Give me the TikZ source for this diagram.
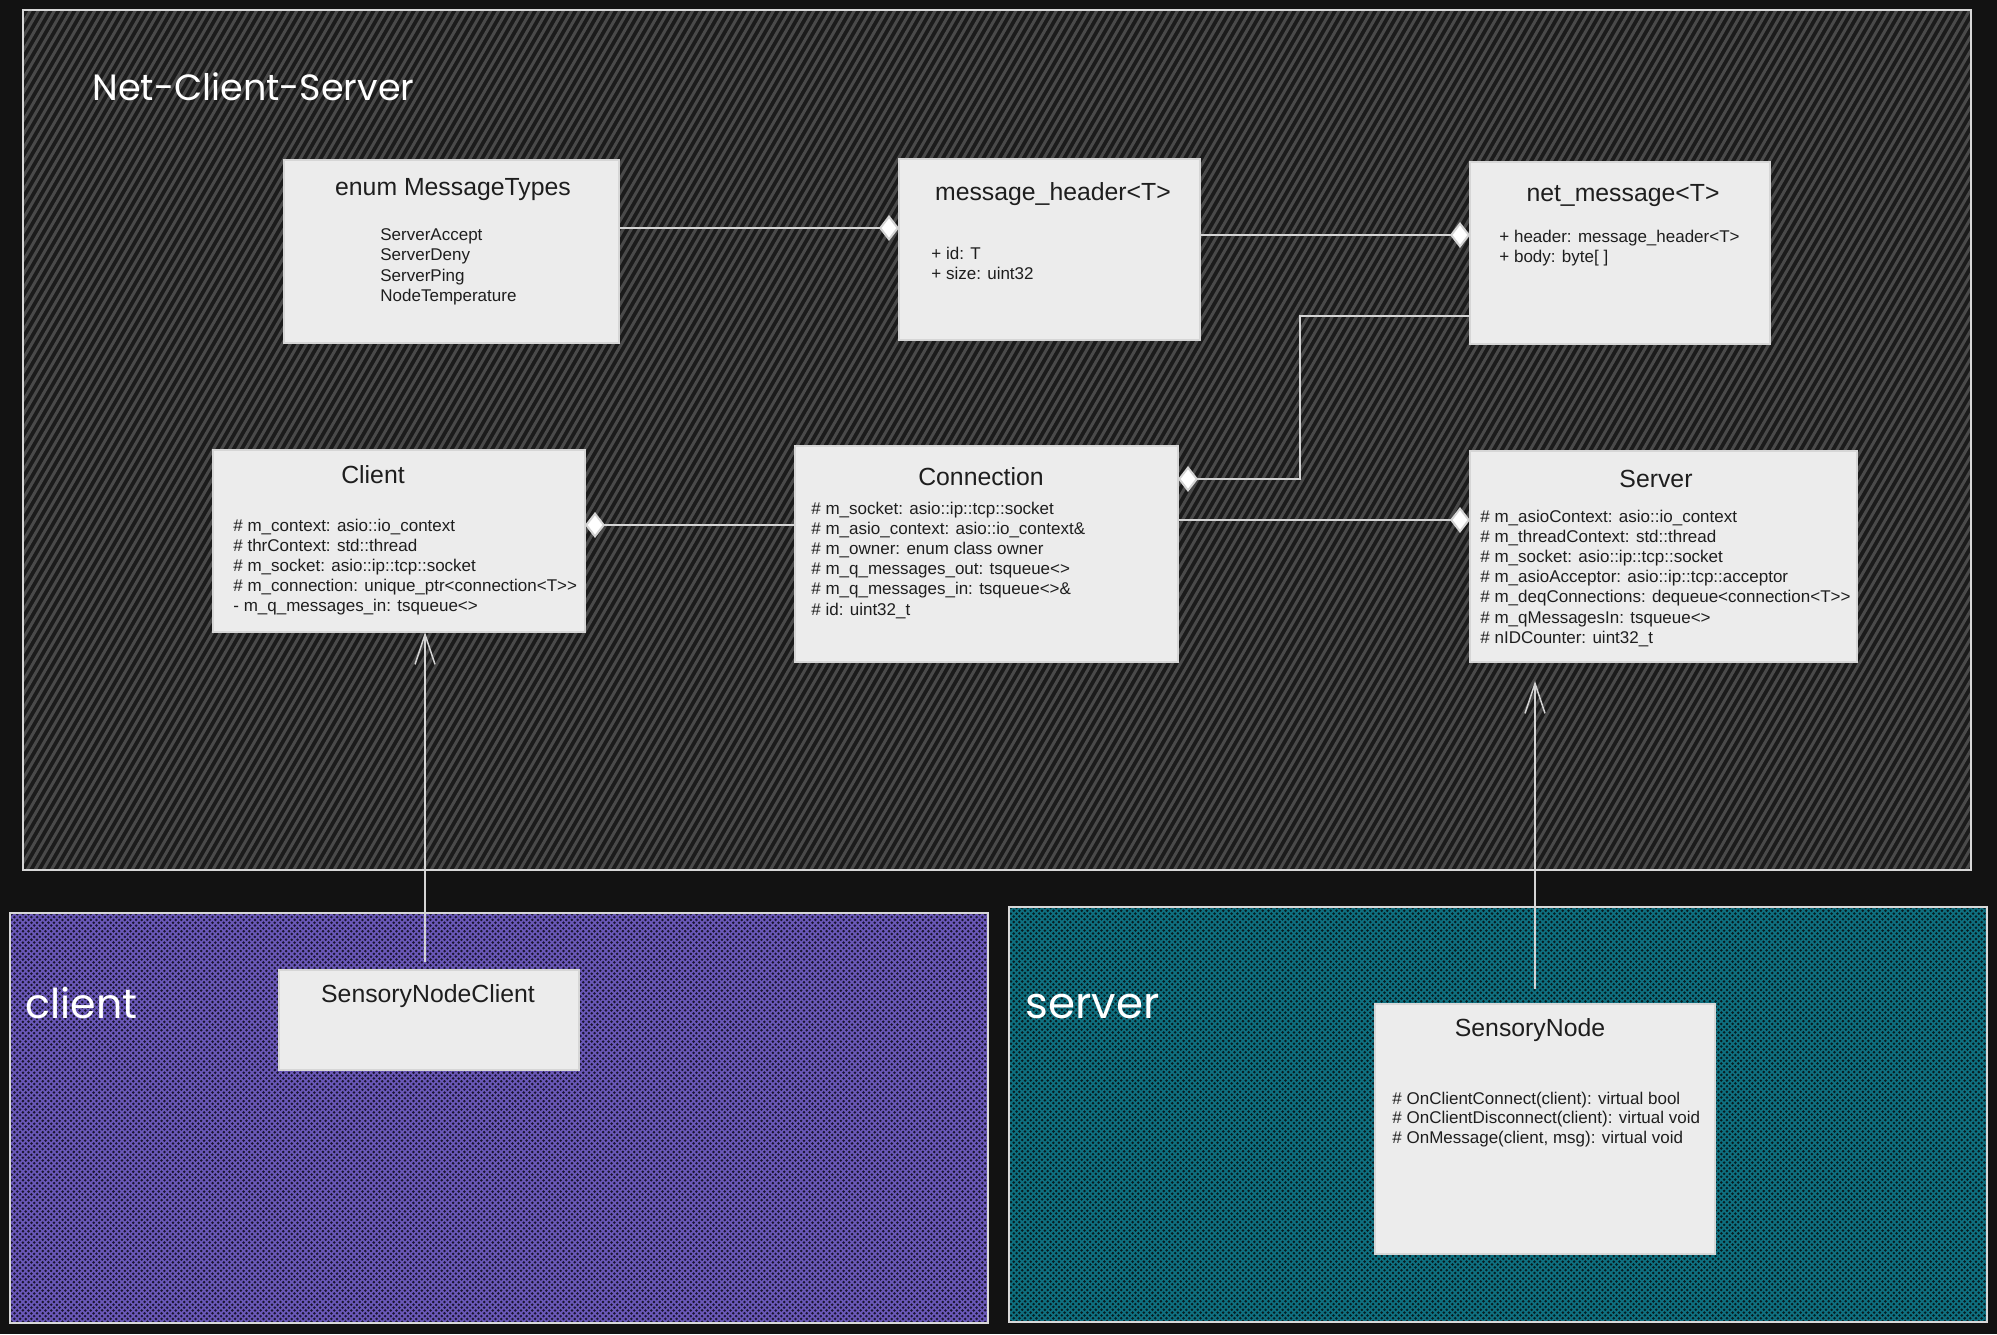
\documentclass[tikz,border=0pt]{standalone}
\usepackage{fontspec}
\setmainfont{Liberation Sans}
\newfontfamily\handfont{Poppins}
\usetikzlibrary{arrows.meta}
\definecolor{pagebg}{HTML}{121212}
\definecolor{topbase}{HTML}{1b1b1b}
\definecolor{tophatch}{HTML}{4a4a4a}
\definecolor{purpbase}{HTML}{1a1530}
\definecolor{purphatch}{HTML}{6a58b8}
\definecolor{tealbase}{HTML}{071c20}
\definecolor{tealhatch}{HTML}{0f7080}
\definecolor{boxfill}{HTML}{ECECEC}
\definecolor{boxline}{HTML}{D6D6D6}
\definecolor{ink}{HTML}{1E1E1E}
\definecolor{connline}{HTML}{D4D4D4}
\definecolor{frameline}{HTML}{D8D8D8}
\begin{document}
\begin{tikzpicture}[x=0.5pt,y=-0.5pt,
 umlbox/.style={draw=boxline, line width=0.8pt, fill=boxfill, inner sep=0pt, outer sep=0pt},
 ttl/.style={font=\fontsize{12.4pt}{14pt}\selectfont, text=ink, inner sep=0pt, anchor=base},
 itemtxt/.style={font=\fontsize{8.5pt}{10pt}\selectfont, text=ink, inner sep=0pt, anchor=base west},
 hand/.style={text=white, inner sep=0pt, anchor=base west, font=\handfont},
 connector/.style={draw=connline, line width=1pt},
 dia/.style={-{Diamond[length=10pt,width=13pt,fill=white]}},
 inh/.style={-{Straight Barb[length=15pt,width=10pt]}, line width=0.75pt, draw=connline},
 frm/.style={draw=frameline, line width=0.8pt},
 hA/.style={draw=tophatch, line width=1.5pt},
 hP/.style={draw=purphatch, line width=0.85pt},
 hT/.style={draw=tealhatch, line width=0.85pt}
]
\useasboundingbox (0,0) rectangle (1997,1334);
\fill[pagebg] (0,0) rectangle (1997,1334);

% ---------- top frame ----------
\fill[topbase] (23,10) rectangle (1971,870);
\begin{scope}
 \clip (23,10) rectangle (1971,870);
 \foreach \k in {0,...,303} \draw[hA] ({-474+\k*8.08},870) -- ++(496.5,-860);
\end{scope}
\draw[frm] (23,10) rectangle (1971,870);

% ---------- client frame ----------
\fill[purpbase] (10,913) rectangle (988,1323);
\begin{scope}
 \clip (10,913) rectangle (988,1323);
 \foreach \k in {0,...,246} {
  \draw[hP] ({-400+\k*5.66},1323) -- ++(410,-410);
  \draw[hP] ({-400+\k*5.66},913) -- ++(410,410);
 }
\end{scope}
\draw[frm] (10,913) rectangle (988,1323);

% ---------- server frame ----------
\fill[tealbase] (1009,907) rectangle (1987,1322);
\begin{scope}
 \clip (1009,907) rectangle (1987,1322);
 \foreach \k in {0,...,248} {
  \draw[hT] ({1009-415+\k*5.66},1322) -- ++(415,-415);
  \draw[hT] ({1009-415+\k*5.66},907) -- ++(415,415);
 }
\end{scope}
\draw[frm] (1009,907) rectangle (1987,1322);

% ---------- frame labels ----------
\node[hand] (lblnet) at (92,100) {\resizebox{161pt}{!}{Net-Client-Server}};
\node[hand] (lblcli) at (25,1018) {\resizebox{56pt}{!}{client}};
\node[hand] (lblsrv) at (1025,1018) {\resizebox{67pt}{!}{server}};

% ---------- boxes ----------
\node[umlbox, minimum width=167.5pt, minimum height=91.5pt] (enum) at (451.5,251.5) {};
\node[umlbox, minimum width=150.5pt, minimum height=90.5pt] (mh) at (1049.5,249.5) {};
\node[umlbox, minimum width=150pt, minimum height=91pt] (nm) at (1620,253) {};
\node[umlbox, minimum width=186pt, minimum height=91pt] (client) at (399,541) {};
\node[umlbox, minimum width=191.5pt, minimum height=108pt] (conn) at (986.5,554) {};
\node[umlbox, minimum width=193.5pt, minimum height=105.5pt] (server) at (1663.5,556.5) {};
\node[umlbox, minimum width=150pt, minimum height=50pt] (snc) at (429,1020) {};
\node[umlbox, minimum width=170pt, minimum height=125pt] (sn) at (1545,1129) {};

% ---------- titles ----------
\node[ttl] (enumT) at (453,195) {enum MessageTypes};
\node[ttl] (mhT) at (1053,200) {message\_header<T>};
\node[ttl] (nmT) at (1623,201) {net\_message<T>};
\node[ttl] (clientT) at (373,483) {Client};
\node[ttl] (connT) at (981,485) {Connection};
\node[ttl] (serverT) at (1656,487) {Server};
\node[ttl] (sncT) at (428,1002) {SensoryNodeClient};
\node[ttl] (snT) at (1530,1036) {SensoryNode};

% ---------- items ----------
\foreach \txt [count=\i] in {ServerAccept, ServerDeny, ServerPing, NodeTemperature}
 \node[itemtxt] (enumI\i) at (380,{240.3+(\i-1)*20.4}) {\txt};
\foreach \txt [count=\i] in {{+ id: T}, {+ size: uint32}}
 \node[itemtxt] (mhI\i) at (931,{259+(\i-1)*20.4}) {\txt};
\foreach \txt [count=\i] in {{+ header: message\_header<T>}, {+ body: byte[ ]}}
 \node[itemtxt] (nmI\i) at (1499,{242+(\i-1)*20.4}) {\txt};
\foreach \txt [count=\i] in {{\# m\_context: asio::io\_context}, {\# thrContext: std::thread}, {\# m\_socket: asio::ip::tcp::socket}, {\# m\_connection: unique\_ptr<connection<T>{}>}, {- m\_q\_messages\_in: tsqueue<>}}
 \node[itemtxt] (clientI\i) at (233,{531+(\i-1)*20}) {\txt};
\foreach \txt [count=\i] in {{\# m\_socket: asio::ip::tcp::socket}, {\# m\_asio\_context: asio::io\_context\&}, {\# m\_owner: enum class owner}, {\# m\_q\_messages\_out: tsqueue<>}, {\# m\_q\_messages\_in: tsqueue<>\&}, {\# id: uint32\_t}}
 \node[itemtxt] (connI\i) at (811,{514+(\i-1)*20.2}) {\txt};
\foreach \txt [count=\i] in {{\# m\_asioContext: asio::io\_context}, {\# m\_threadContext: std::thread}, {\# m\_socket: asio::ip::tcp::socket}, {\# m\_asioAcceptor: asio::ip::tcp::acceptor}, {\# m\_deqConnections: dequeue<connection<T>{}>}, {\# m\_qMessagesIn: tsqueue<>}, {\# nIDCounter: uint32\_t}}
 \node[itemtxt] (serverI\i) at (1480,{522+(\i-1)*20.2}) {\txt};
\foreach \txt [count=\i] in {{\# OnClientConnect(client): virtual bool}, {\# OnClientDisconnect(client): virtual void}, {\# OnMessage(client, msg): virtual void}}
 \node[itemtxt] (snI\i) at (1392,{1104+(\i-1)*19.6}) {\txt};

% ---------- connectors ----------
\coordinate (c1) at ([yshift=11.75pt]enum.east);
\draw[connector, dia] (c1) -- (c1 -| mh.west);
\coordinate (c2) at ([yshift=7.25pt]mh.east);
\draw[connector, dia] (c2) -- (c2 -| nm.west);
\coordinate (c3) at ([yshift=-31.5pt]nm.west);
\coordinate (c3e) at ([yshift=37.5pt]conn.east);
\draw[connector, dia] (c3) -- ++(-170,0) |- (c3e);
\coordinate (c4) at ([yshift=14.5pt]conn.west);
\draw[connector, dia] (c4) -- (c4 -| client.east);
\coordinate (c5) at ([yshift=17pt]conn.east);
\draw[connector, dia] (c5) -- (c5 -| server.west);
\coordinate (s6) at ([xshift=-2pt,yshift=4pt]snc.north);
\draw[inh] (s6) -- (s6 |- client.south);
\coordinate (s7) at ([xshift=-5pt,yshift=7.5pt]sn.north);
\coordinate (e7) at ([yshift=-9.5pt]server.south);
\draw[inh] (s7) -- (s7 |- e7);
\end{tikzpicture}
\end{document}
